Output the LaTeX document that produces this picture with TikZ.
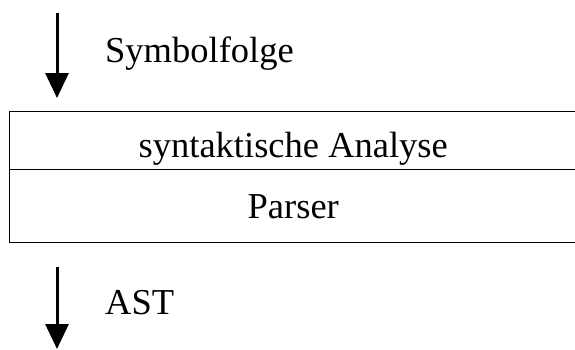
\documentclass[tikz,border=0pt]{standalone}
\usepackage{fontspec}
\setmainfont{Liberation Serif}
\usetikzlibrary{arrows.meta}
\tikzset{
	schrift/.style={font=\fontsize{36.5}{40}\selectfont},
	stufe/.style={draw, line width=0.9pt, minimum width=568pt, inner sep=0pt, text depth=0pt, schrift},
	fluss/.style={line width=3pt, -{Triangle[width=23pt,length=25pt]}}
}
\begin{document}
\begin{tikzpicture}[x=1pt,y=1pt]
	\useasboundingbox (0,0) rectangle (575,349);
	
	\node[stufe, minimum height=58pt, text height=34pt] (analyse) at (293.25,209) {syntaktische Analyse};
	\node[stufe, minimum height=73pt, text height=25pt] (parser) at (293.25,143.5) {Parser};
	
	\coordinate (ein) at (57,336);
	\coordinate (einende) at (57,251);
	\coordinate (aus) at (57,82);
	\coordinate (ausende) at (57,0);
	
	\draw[fluss] (ein) -- (einende);
	\draw[fluss] (aus) -- (ausende);
	
	\node[schrift, anchor=base west, inner sep=0pt] (symbolfolge) at (105,286.5) {Symbolfolge};
	\node[schrift, anchor=base west, inner sep=0pt] (ast) at (105,35) {AST};
\end{tikzpicture}
\end{document}
